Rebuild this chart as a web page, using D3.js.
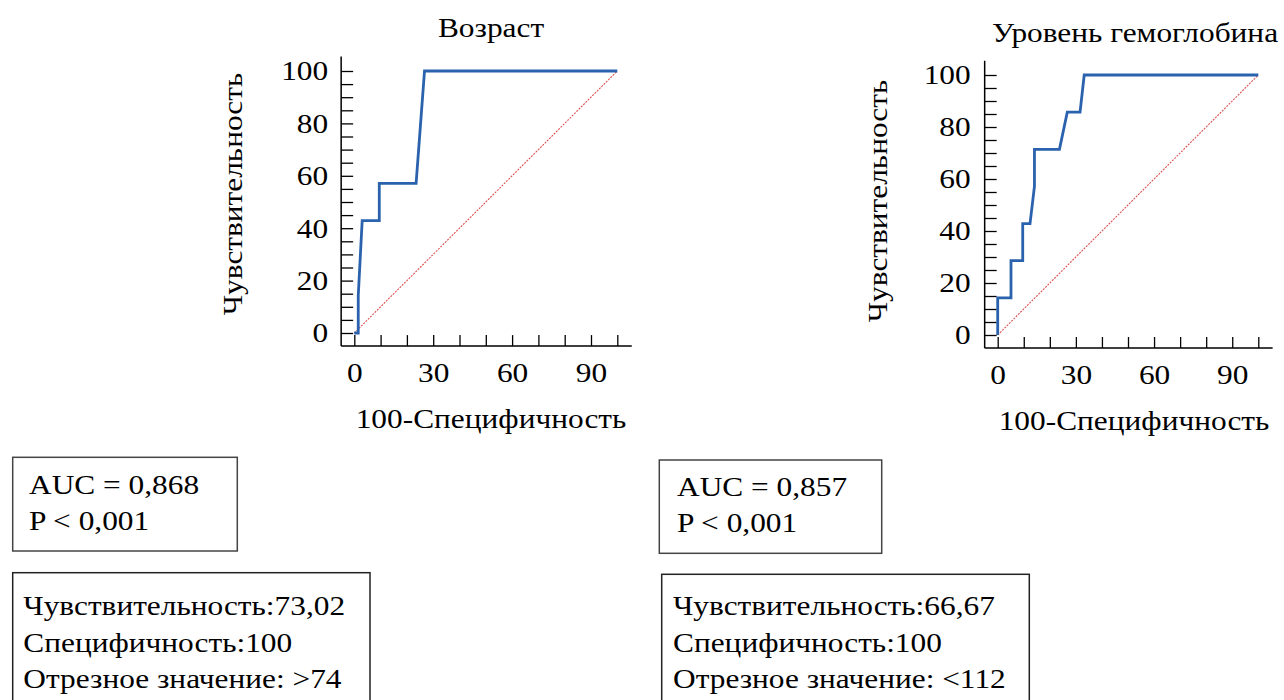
<!DOCTYPE html>
<html>
<head>
<meta charset="utf-8">
<script src="https://cdn.jsdelivr.net/npm/d3@7.9.0/dist/d3.min.js"></script>
<style>
  body { margin: 0; background: #fff; }
</style>
</head>
<body>
<svg id="chart" width="1284" height="700"></svg>
<script>
// ROC points (x = 100-specificity, y = sensitivity)
const ageX = [0, 1.5, 1.5, 3.0, 9.5, 9.5, 23.5, 26.7, 100];
const ageY = [0, 0, 14.29, 42.86, 42.86, 57.14, 57.14, 100, 100];
const hbX = [0, 0, 5.1, 5.1, 9.6, 9.6, 12.4, 14.1, 14.1, 23.7, 26.7, 31.6, 33.2, 100];
const hbY = [0, 14.29, 14.29, 28.57, 28.57, 42.86, 42.86, 57.14, 71.43, 71.43, 85.71, 85.71, 100, 100];

const xTicks = [0, 30, 60, 90];
const yTicks = [0, 20, 40, 60, 80, 100];
const xMinor = d3.range(0, 101, 10);
const yMinor = d3.range(0, 101, 5);

const titles = ['Возраст', 'Уровень гемоглобина'];
const xLabel = '100-Специфичность';
const yLabel = 'Чувствительность';
const aucLines = [['AUC = 0,868', 'P < 0,001'], ['AUC = 0,857', 'P < 0,001']];
const cutLines = [
  ['Чувствительность:73,02', 'Специфичность:100', 'Отрезное значение: >74'],
  ['Чувствительность:66,67', 'Специфичность:100', 'Отрезное значение: <112']
];

const svg = d3.select('#chart');
const fs = 28;
const font = 'Tinos, serif';
const sx = 1.12;   // the source font is a bit wider than the local serif

// text placed at (x,y), stretched horizontally
function label(g, x, y, txt, anchor = 'start', rot = 0) {
  return g.append('text')
    .attr('transform', `translate(${x},${y}) rotate(${rot}) scale(${sx},1)`)
    .attr('text-anchor', anchor)
    .attr('font-family', font)
    .attr('font-size', fs)
    .attr('fill', '#000')
    .text(txt);
}

function drawRoc(cfg, xs, ys, title) {
  const x = d3.scaleLinear().domain([0, 100]).range(cfg.xr);
  const y = d3.scaleLinear().domain([0, 100]).range(cfg.yr);
  const g = svg.append('g');

  // axes sit slightly outside the data area
  const ax = -5, top = 105.5;
  g.append('line')
    .attr('x1', x(ax)).attr('x2', x(ax)).attr('y1', y(ax)).attr('y2', y(top))
    .attr('stroke', '#000').attr('stroke-width', 1.5);
  g.append('line')
    .attr('x1', x(ax)).attr('x2', x(top)).attr('y1', y(ax)).attr('y2', y(ax))
    .attr('stroke', '#000').attr('stroke-width', 1.5);

  // y ticks (inward)
  const yAxis = g.append('g').attr('transform', `translate(${x(ax)},0)`)
    .call(d3.axisLeft(y).tickValues(yMinor).tickSize(-12).tickPadding(cfg.yPad / sx)
      .tickFormat(d => yTicks.includes(d) ? d : ''));
  yAxis.select('.domain').remove();
  yAxis.attr('font-family', font).attr('font-size', fs);
  yAxis.selectAll('line').attr('stroke-width', 1.3);
  yAxis.selectAll('text').attr('transform', `scale(${sx},1)`);

  // x ticks (inward)
  const xAxis = g.append('g').attr('transform', `translate(0,${y(ax)})`)
    .call(d3.axisBottom(x).tickValues(xMinor).tickSize(-11).tickPadding(cfg.xPad)
      .tickFormat(d => xTicks.includes(d) ? d : ''));
  xAxis.select('.domain').remove();
  xAxis.attr('font-family', font).attr('font-size', fs);
  xAxis.selectAll('line').attr('stroke-width', 1.3);
  xAxis.selectAll('text').attr('transform', `scale(${sx},1)`);

  // reference diagonal
  g.append('line')
    .attr('x1', x(0)).attr('y1', y(0)).attr('x2', x(100)).attr('y2', y(100))
    .attr('stroke', '#dd5050').attr('stroke-width', 1.1).attr('stroke-dasharray', '2,1.2');

  // ROC curve
  const pts = xs.map((v, i) => [v, ys[i]]);
  g.append('path')
    .datum(pts)
    .attr('d', d3.line().x(d => x(d[0])).y(d => y(d[1])))
    .attr('fill', 'none').attr('stroke', '#2b62ad').attr('stroke-width', 2.8);

  label(g, cfg.titleX, cfg.titleY, title, 'middle');
  label(g, cfg.xlX, cfg.xlY, xLabel, 'middle');
  label(g, cfg.ylX, cfg.ylY, yLabel, 'middle', -90);
}

function drawBox(b, lines, lineH) {
  const g = svg.append('g');
  g.append('rect').attr('x', b.x).attr('y', b.y).attr('width', b.w).attr('height', b.h)
    .attr('fill', 'none').attr('stroke', b.stroke).attr('stroke-width', 1.5);
  lines.forEach((d, i) => label(g, b.tx, b.ty + i * lineH, d));
}

drawRoc({ xr: [354.3, 617.3], yr: [333, 71], yPad: 13, xPad: 16,
  titleX: 491, titleY: 37, xlX: 491, xlY: 428, ylX: 242, ylY: 194 }, ageX, ageY, titles[0]);
drawRoc({ xr: [997.7, 1258.3], yr: [335, 75], yPad: 14, xPad: 16,
  titleX: 1135, titleY: 42, xlX: 1134, xlY: 430, ylX: 887, ylY: 201 }, hbX, hbY, titles[1]);

drawBox({ x: 12.7, y: 457.3, w: 224.6, h: 93.7, stroke: '#444', tx: 29, ty: 494 }, aucLines[0], 36);
drawBox({ x: 659.3, y: 460, w: 222.4, h: 93.3, stroke: '#444', tx: 677, ty: 496 }, aucLines[1], 36);
drawBox({ x: 12.7, y: 572.7, w: 357.3, h: 140, stroke: '#222', tx: 23.3, ty: 615 }, cutLines[0], 36.5);
drawBox({ x: 661.7, y: 574.3, w: 367.6, h: 140, stroke: '#222', tx: 673, ty: 615 }, cutLines[1], 36.5);
</script>
</body>
</html>
